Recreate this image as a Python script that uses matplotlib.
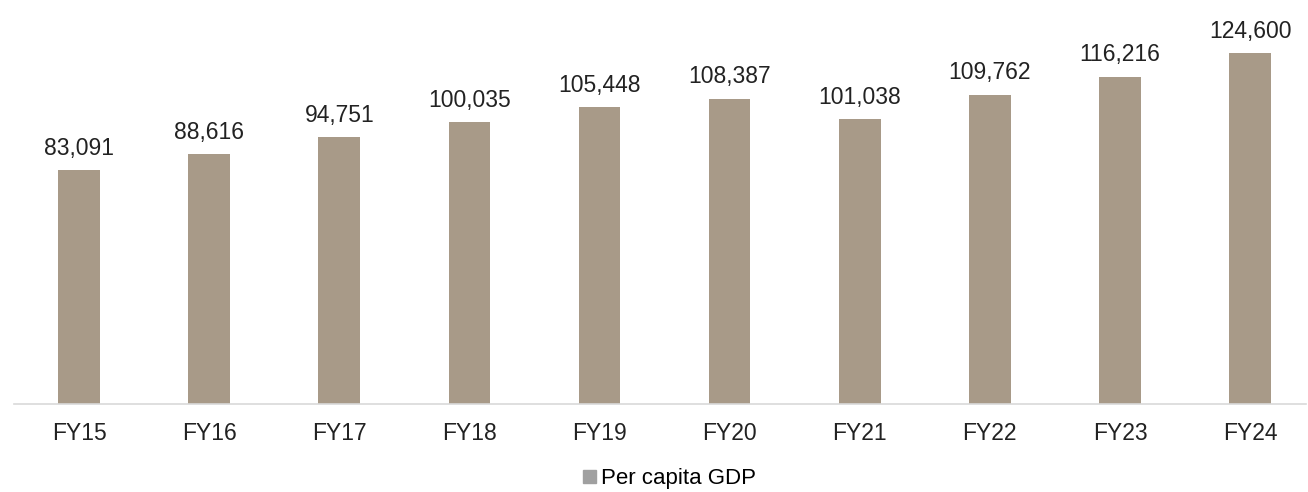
import matplotlib.pyplot as plt

# Data
years = ['FY15', 'FY16', 'FY17', 'FY18', 'FY19', 'FY20', 'FY21', 'FY22', 'FY23', 'FY24']
gdp_per_capita = [83091, 88616, 94751, 100035, 105448, 108387, 101038, 109762, 116216, 124600]

plt.rcParams['font.family'] = ['Liberation Sans', 'DejaVu Sans']

fig = plt.figure(figsize=(13.08, 4.92), dpi=100)
ax = fig.add_axes([14 / 1308, 88 / 492, 1292 / 1308, 384 / 492])

x = range(len(years))
bars = ax.bar(x, gdp_per_capita, width=0.32, color='#a89a88', label='Per capita GDP')

for xi, v in zip(x, gdp_per_capita):
    ax.annotate(f'{v:,}', (xi, v), xytext=(0, 11), textcoords='offset points',
                ha='center', va='baseline', fontsize=16.5, color='#222222')

ax.set_xlim(-0.5, 9.43)
ax.set_ylim(0, 136300)
ax.set_xticks(list(x))
ax.set_xticklabels(years, fontsize=16.5, color='#222222')
ax.tick_params(axis='x', length=0, pad=13)
ax.set_yticks([])
for side in ['top', 'right', 'left']:
    ax.spines[side].set_visible(False)
ax.spines['bottom'].set_color('#d9d9d9')
ax.spines['bottom'].set_linewidth(1.2)

handles = [plt.Rectangle((0, 0), 1, 1, color='#a0a0a0')]
fig.legend(handles, ['Per capita GDP'], loc='lower center', bbox_to_anchor=(0.512, -0.035),
           frameon=False, fontsize=16, handlelength=0.55, handleheight=0.55, handletextpad=0.25)

plt.savefig('out.png', dpi=100)
